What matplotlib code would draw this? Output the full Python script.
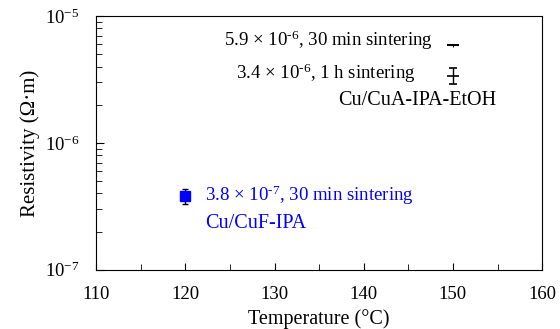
import matplotlib
matplotlib.use("Agg")
import matplotlib.pyplot as plt
from matplotlib.ticker import LogLocator, MultipleLocator, NullFormatter

plt.rcParams['font.family'] = ['Liberation Serif', 'DejaVu Serif']
plt.rcParams['mathtext.fontset'] = 'custom'
plt.rcParams['mathtext.rm'] = 'Liberation Serif'
plt.rcParams['mathtext.it'] = 'Liberation Serif:italic'
plt.rcParams['axes.unicode_minus'] = False

# Cu/CuA-IPA-EtOH (black) and Cu/CuF-IPA (blue)
cua_temp = [150, 150]
cua_rho = [5.9e-6, 3.4e-6]
cua_err = [0.15e-6, 0.5e-6]
cuf_temp = [120]
cuf_rho = [3.8e-7]
cuf_err = [0.5e-7]

fig, ax = plt.subplots(figsize=(5.6, 3.29), dpi=100)
fig.subplots_adjust(left=0.172, right=0.968, top=0.951, bottom=0.18)

ax.errorbar(cua_temp[:1], cua_rho[:1], yerr=cua_err[:1], fmt='_', color='black',
            markersize=8, markeredgewidth=1.5, capsize=0, elinewidth=0.8)
ax.errorbar(cua_temp[1:], cua_rho[1:], yerr=cua_err[1:], fmt='_', color='black',
            markersize=8, markeredgewidth=1.2, capsize=3, elinewidth=1, capthick=1)
ax.errorbar(cuf_temp, cuf_rho, yerr=cuf_err, fmt='s', color='blue', ecolor='black',
            markersize=6.5, capsize=2.5, elinewidth=1, capthick=1)

fs = 14.5
fs_val = 13.6
ax.text(147.7, 6.5e-6, r'5.9 ${\times}$ 10$^{\text{-6}}$, 30 min sintering', ha='right',
        va='center', fontsize=fs_val)
ax.text(145.8, 3.55e-6, r'3.4 ${\times}$ 10$^{\text{-6}}$, 1 h sintering', ha='right',
        va='center', fontsize=fs_val)
ax.text(137.1, 2.18e-6, 'Cu/CuA-IPA-EtOH', ha='left', va='center', fontsize=fs)
ax.text(122.2, 3.9e-7, r'3.8 ${\times}$ 10$^{\text{-7}}$, 30 min sintering', ha='left',
        va='center', fontsize=fs_val, color='blue')
ax.text(122.2, 2.3e-7, 'Cu/CuF-IPA', ha='left', va='center', fontsize=fs, color='blue')

ax.set_xlim(110, 160)
ax.set_yscale('log')
ax.set_ylim(1e-7, 1e-5)
ax.xaxis.set_major_locator(MultipleLocator(10))
ax.xaxis.set_minor_locator(MultipleLocator(5))
ax.yaxis.set_major_locator(LogLocator(base=10))
ax.yaxis.set_minor_locator(LogLocator(base=10, subs=range(2, 10)))
ax.yaxis.set_minor_formatter(NullFormatter())
ax.tick_params(which='both', direction='in', labelsize=13.5, top=False, right=False)
ax.tick_params(axis='x', which='major', length=5, pad=12)
ax.tick_params(axis='x', which='minor', length=4)
ax.tick_params(axis='y', which='major', length=6, pad=12)
ax.tick_params(axis='y', which='minor', length=4)
for s in ax.spines.values():
    s.set_linewidth(0.8)

ax.set_xlabel('Temperature (°C)', fontsize=fs, labelpad=4)
ax.set_ylabel('Resistivity (Ω·m)', fontsize=15, labelpad=4)

fig.savefig('out.png', dpi=100)
